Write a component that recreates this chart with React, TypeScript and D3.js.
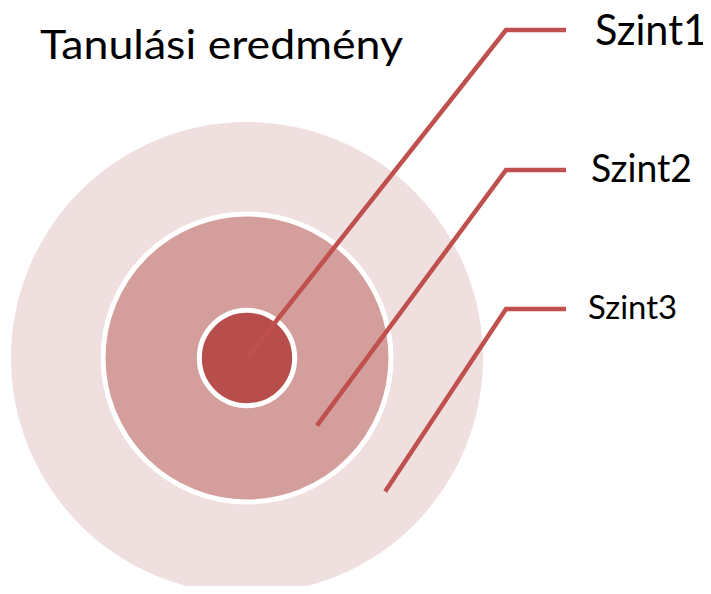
import * as d3 from "d3";

// Levels from the innermost ring outwards
const levels = ["Szint1", "Szint2", "Szint3"];
// Outer edge of each ring, in ring units
const ringOuter = [1.01, 3.05, 5];
// Where each leader line starts, in ring units from the centre
const anchorAt = [0, 2.06, 4.07];
const title = "Tanulási eredmény";

const fills = ["#B84E4B", "#D49E9C", "#F0DFDF"];
const lineColor = "#C0504D";

// measured label metrics (font size, width) so the Calibri look holds
const labelSize = [42, 39, 33];
const labelWidth = [112, 101, 89];
const labelBaseline = [45, 182, 319];
const labelX = [595, 591, 588];
const elbowY = [30, 170, 309];

const App = () => {
  const width = 711;
  const height = 594;
  const cx = 247;
  const cy = 358;

  const r = d3.scaleLinear().domain([0, 5]).range([0, 236]);
  const angle = (44 * Math.PI) / 180;
  const elbowX = 506;
  const endX = 566;

  const leader = d3.line<[number, number]>();

  return (
    <svg width={width} height={height} style={{ display: "block", margin: "-8px" }}>
      <rect width={width} height={height} fill="#fff" />
      <text
        x={40}
        y={59}
        fontFamily="Lato, 'Open Sans', sans-serif"
        fontSize={40}
        textLength={363}
        lengthAdjust="spacingAndGlyphs"
        fill="#000"
      >
        {title}
      </text>

      {/* rings, drawn outer first */}
      {levels
        .map((name, i) => ({ name, i }))
        .reverse()
        .map(({ name, i }) => (
          <circle
            key={name}
            cx={cx}
            cy={cy}
            r={r(ringOuter[i])}
            fill={fills[i]}
            stroke={i < 2 ? "#fff" : "none"}
            strokeWidth={5}
          />
        ))}

      {levels.map((name, i) => {
        const ax = cx + r(anchorAt[i]) * Math.cos(angle);
        const ay = cy + r(anchorAt[i]) * Math.sin(angle);
        const pts: [number, number][] = [
          [ax, ay],
          [elbowX, elbowY[i]],
          [endX, elbowY[i]],
        ];
        return (
          <g key={name}>
            <path
              d={leader(pts) ?? ""}
              fill="none"
              stroke={lineColor}
              strokeWidth={4.5}
              strokeLinejoin="miter"
            />
            <text
              x={labelX[i]}
              y={labelBaseline[i]}
              fontFamily="Lato, 'Open Sans', sans-serif"
              fontSize={labelSize[i]}
              textLength={labelWidth[i]}
              lengthAdjust="spacingAndGlyphs"
              fill="#000"
            >
              {name}
            </text>
          </g>
        );
      })}
    </svg>
  );
};

export default App;
